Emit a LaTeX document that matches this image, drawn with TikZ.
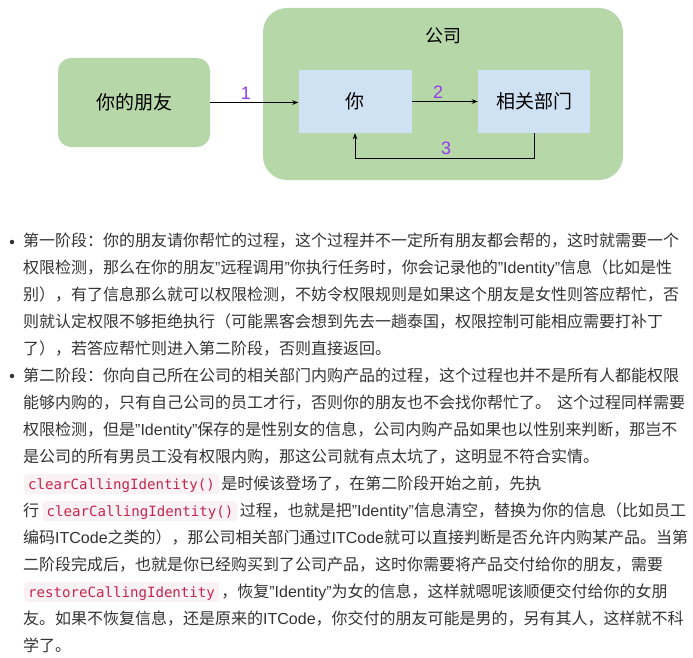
\documentclass[tikz,border=0pt]{standalone}
\usepackage{fontspec}
\setmainfont{Noto Sans CJK SC}
\newfontfamily\latfont{Liberation Sans}
\newfontfamily\numfont{Liberation Sans}
\newfontfamily\codefont{DejaVu Sans Mono}
\usepackage{tikz}
\usetikzlibrary{arrows.meta,positioning,calc}
\definecolor{boxgreen}{RGB}{182,215,168}
\definecolor{boxblue}{RGB}{207,226,243}
\definecolor{numpurple}{RGB}{148,60,235}
\definecolor{bodygray}{RGB}{51,51,51}
\definecolor{codered}{RGB}{199,37,78}
\definecolor{codebg}{RGB}{249,242,244}
\newcommand{\lat}[1]{{\latfont #1}}

\begin{document}
\begin{tikzpicture}[x=1pt, y=-1pt,
  greenbox/.style={fill=boxgreen, inner sep=0pt},
  bluebox/.style={fill=boxblue, minimum width=113pt, minimum height=63pt, inner sep=0pt, font=\fontsize{19}{21}\selectfont},
  num/.style={text=numpurple, inner sep=0pt, font=\numfont\fontsize{18}{20}\selectfont},
  flow/.style={-{Stealth[length=6pt,width=4.5pt]}, line width=0.9pt},
  txt/.style={anchor=base west, inner sep=0pt, text=bodygray, font=\fontsize{16}{18}\selectfont},
  codebox/.style={anchor=base west, fill=codebg, text=codered, rounded corners=3pt, inner xsep=4pt, inner ysep=2pt,
    text height=13pt, text depth=3pt, font=\codefont\fontsize{14.1}{16}\selectfont},
  bullet/.style={circle, fill=bodygray, minimum size=4.5pt, inner sep=0pt}]
 \useasboundingbox (0,0) rectangle (693,658);

 % diagram
 \node[greenbox, rounded corners=24pt, minimum width=360pt, minimum height=172pt] (company) at (443,94) {};
 \node[font=\fontsize{18}{20}\selectfont, inner sep=0pt] (companylabel) at (443,36) {公司};
 \node[greenbox, rounded corners=13pt, minimum width=152pt, minimum height=89pt, font=\fontsize{19}{21}\selectfont] (friend) at (134,102.5) {你的朋友};
 \node[bluebox] (you) at (355,101.5) {你};
 \node[bluebox, minimum width=112pt] (dept) at (534,101.5) {相关部门};

 \draw[flow] (friend.east) -- (friend.east -| you.west);
 \draw[flow] (you.east) -- (you.east -| dept.west);
 \draw[flow] (dept.south) -- ++(0,25) coordinate (back) -| (you.south);

 \node[num] (n1) at (246,93) {1};
 \node[num] (n2) at (438,92) {2};
 \node[num] (n3) at (446,148) {3};

 % first stage
 \node[bullet] (dot1) at (12,242) {};
 \node[txt] (l1) at (23,246) {第一阶段：你的朋友请你帮忙的过程，这个过程并不一定所有朋友都会帮的，这时就需要一个};
 \node[txt] (l2) at (23,273) {权限检测，那么在你的朋友\lat{”}远程调用\lat{”}你执行任务时，你会记录他的\lat{”Identity”}信息（比如是性};
 \node[txt] (l3) at (23,300) {别），有了信息那么就可以权限检测，不妨令权限规则是如果这个朋友是女性则答应帮忙，否};
 \node[txt] (l4) at (23,327) {则就认定权限不够拒绝执行（可能黑客会想到先去一趟泰国，权限控制可能相应需要打补丁};
 \node[txt] (l5) at (23,354) {了），若答应帮忙则进入第二阶段，否则直接返回。};

 % second stage
 \node[bullet] (dot2) at (12,376) {};
 \node[txt] (l6) at (23,381) {第二阶段：你向自己所在公司的相关部门内购产品的过程，这个过程也并不是所有人都能权限};
 \node[txt] (l7) at (23,408) {能够内购的，只有自己公司的员工才行，否则你的朋友也不会找你帮忙了。\hspace{6pt}这个过程同样需要};
 \node[txt] (l8) at (23,435) {权限检测，但是\lat{”Identity”}保存的是性别女的信息，公司内购产品如果也以性别来判断，那岂不};
 \node[txt] (l9) at (23,462) {是公司的所有男员工没有权限内购，那这公司就有点太坑了，这明显不符合实情。};
 \node[codebox] (c1) at (24,489) {clearCallingIdentity()};
 \node[txt] (l10) at ([xshift=2pt]c1.base east) {是时候该登场了，在第二阶段开始之前，先执};
 \node[txt] (l11a) at (23,516) {行};
 \node[codebox] (c2) at ([xshift=3pt]l11a.base east) {clearCallingIdentity()};
 \node[txt] (l11) at ([xshift=2pt]c2.base east) {过程，也就是把\lat{”Identity”}信息清空，替换为你的信息（比如员工};
 \node[txt] (l12) at (23,543) {编码\lat{ITCode}之类的），那公司相关部门通过\lat{ITCode}就可以直接判断是否允许内购某产品。当第};
 \node[txt] (l13) at (23,570) {二阶段完成后，也就是你已经购买到了公司产品，这时你需要将产品交付给你的朋友，需要};
 \node[codebox] (c3) at (24,597) {restoreCallingIdentity};
 \node[txt] (l14) at ([xshift=2pt]c3.base east) {，恢复\lat{”Identity”}为女的信息，这样就嗯呢该顺便交付给你的女朋};
 \node[txt] (l15) at (23,624) {友。如果不恢复信息，还是原来的\lat{ITCode}，你交付的朋友可能是男的，另有其人，这样就不科};
 \node[txt] (l16) at (23,651) {学了。};
\end{tikzpicture}
\end{document}
